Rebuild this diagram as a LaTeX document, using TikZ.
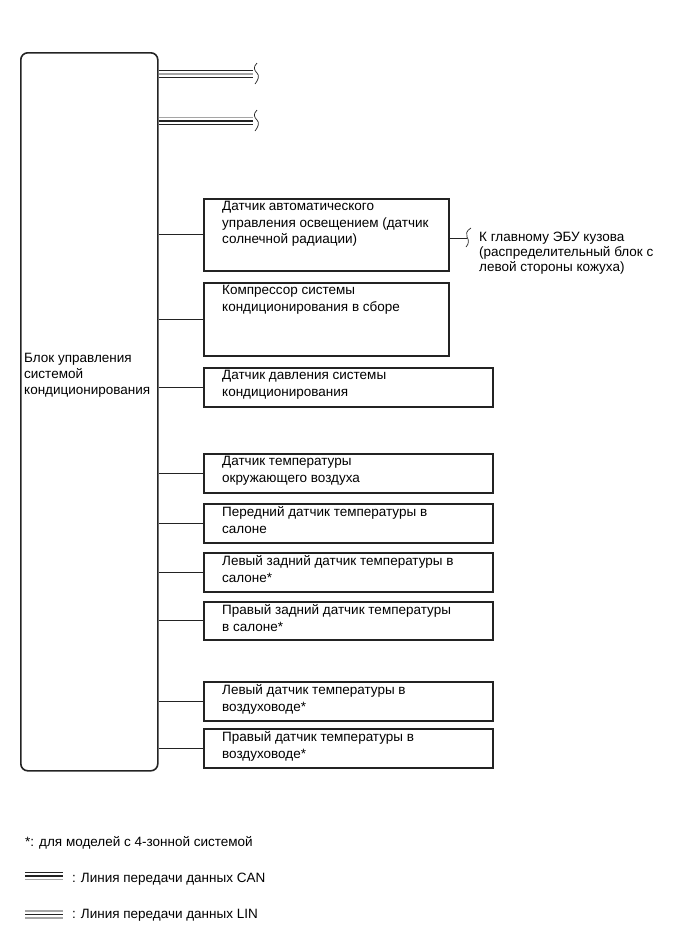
\documentclass[tikz,border=0pt]{standalone}
\usepackage{fontspec}
\setmainfont{Liberation Sans}
\usetikzlibrary{positioning}
\definecolor{LineBlack}{RGB}{35,35,35}
\definecolor{BusGray}{RGB}{165,165,165}

\begin{document}
\begin{tikzpicture}[x=1pt,y=-1pt,
    ctrl/.style={draw=LineBlack,line width=1.6pt,rounded corners=7pt,anchor=north west,
      minimum width=137pt,minimum height=718pt,inner sep=0pt},
    sensor/.style={draw=LineBlack,line width=1.8pt,anchor=north west,minimum width=#1,inner sep=0pt},
    lbl/.style={anchor=north west,xshift=19pt,yshift=-3.5pt,align=left,inner sep=0pt,
      font=\fontsize{13.5}{16.5}\selectfont},
    note/.style={anchor=west,align=left,inner sep=0pt,font=\fontsize{13.5}{15}\selectfont},
    wire/.style={LineBlack,line width=0.9pt},
    brk/.style={LineBlack,line width=0.7pt}]
  \useasboundingbox (0,0) rectangle (690,951);

  % control unit
  \node[ctrl] (ecu) at (20,52) {};
  \node[note,font=\fontsize{13.5}{16}\selectfont] (ecutxt) at (24,375)
    {Блок управления\\системой\\кондиционирования};

  % bus lines
  \coordinate (can) at (253,74);
  \coordinate (lin) at (253,121);
  \foreach \dy/\c in {3.5/LineBlack,0/BusGray,-3.5/LineBlack}
    \draw[\c,line width=1.3pt] ([yshift=\dy pt]ecu.east |- can) -- ([yshift=\dy pt]can);
  \foreach \dy/\c in {3.5/BusGray,0/LineBlack,-3.5/LineBlack}
    \draw[\c,line width=1.3pt] ([yshift=\dy pt]ecu.east |- lin) -- ([yshift=\dy pt]lin);
  \draw[brk] (257,63) .. controls (253,67) and (254,70) .. (257,73) .. controls (260,76) and (258,80) .. (255,84);
  \draw[brk] (257,110) .. controls (253,114) and (254,117) .. (257,120) .. controls (260,123) and (258,127) .. (255,131);

  % sensors
  \node[sensor=245pt,minimum height=72pt] (s1) at (203,198) {};
  \node[sensor=245pt,minimum height=73pt] (s2) at (203,282) {};
  \node[sensor=289pt,minimum height=39pt] (s3) at (203,367) {};
  \node[sensor=289pt,minimum height=39pt] (s4) at (203,453) {};
  \node[sensor=289pt,minimum height=39pt] (s5) at (203,503) {};
  \node[sensor=289pt,minimum height=39pt] (s6) at (203,552) {};
  \node[sensor=289pt,minimum height=38pt] (s7) at (203,601) {};
  \node[sensor=289pt,minimum height=39pt] (s8) at (203,681) {};
  \node[sensor=289pt,minimum height=39pt] (s9) at (203,728) {};

  \node[lbl] (t1) at (s1.north west) {Датчик автоматического\\управления освещением (датчик\\солнечной радиации)};
  \node[lbl] (t2) at (s2.north west) {Компрессор системы\\кондиционирования в сборе};
  \node[lbl] (t3) at (s3.north west) {Датчик давления системы\\кондиционирования};
  \node[lbl] (t4) at (s4.north west) {Датчик температуры\\окружающего воздуха};
  \node[lbl] (t5) at (s5.north west) {Передний датчик температуры в\\салоне};
  \node[lbl] (t6) at (s6.north west) {Левый задний датчик температуры в\\салоне*};
  \node[lbl] (t7) at (s7.north west) {Правый задний датчик температуры\\в салоне*};
  \node[lbl] (t8) at (s8.north west) {Левый датчик температуры в\\воздуховоде*};
  \node[lbl] (t9) at (s9.north west) {Правый датчик температуры в\\воздуховоде*};

  \foreach \s in {s1,s2,s3,s4,s5,s6,s7,s8,s9}
    \draw[wire] (ecu.east |- \s.west) -- (\s.west);

  % body ECU
  \coordinate (body) at (467,238);
  \draw[wire] (s1.east |- body) -- (body);
  \draw[brk] (471,228) .. controls (466,231) and (466,234) .. (467,237) .. controls (469,240) and (469,244) .. (466,247);
  \node[note] (bodytxt) at (479,253)
    {К главному ЭБУ кузова\\(распределительный блок с\\левой стороны кожуха)};

  % legend
  \node[note] (star) at (25,843) {*: для моделей с 4-зонной системой};
  \coordinate (canA) at (25,876);
  \coordinate (canB) at (63,876);
  \coordinate (linA) at (25,914.5);
  \coordinate (linB) at (63,914.5);
  \foreach \dy/\c in {3.5/LineBlack,0/LineBlack,-3.5/BusGray}
    \draw[\c,line width=1.3pt] ([yshift=\dy pt]canA) -- ([yshift=\dy pt]canB);
  \foreach \dy/\c in {3.5/BusGray,0/LineBlack,-3.5/BusGray}
    \draw[\c,line width=1.3pt] ([yshift=\dy pt]linA) -- ([yshift=\dy pt]linB);
  \node[note] (cantxt) at (72,879) {: Линия передачи данных CAN};
  \node[note] (lintxt) at (72,915) {: Линия передачи данных LIN};
\end{tikzpicture}
\end{document}
